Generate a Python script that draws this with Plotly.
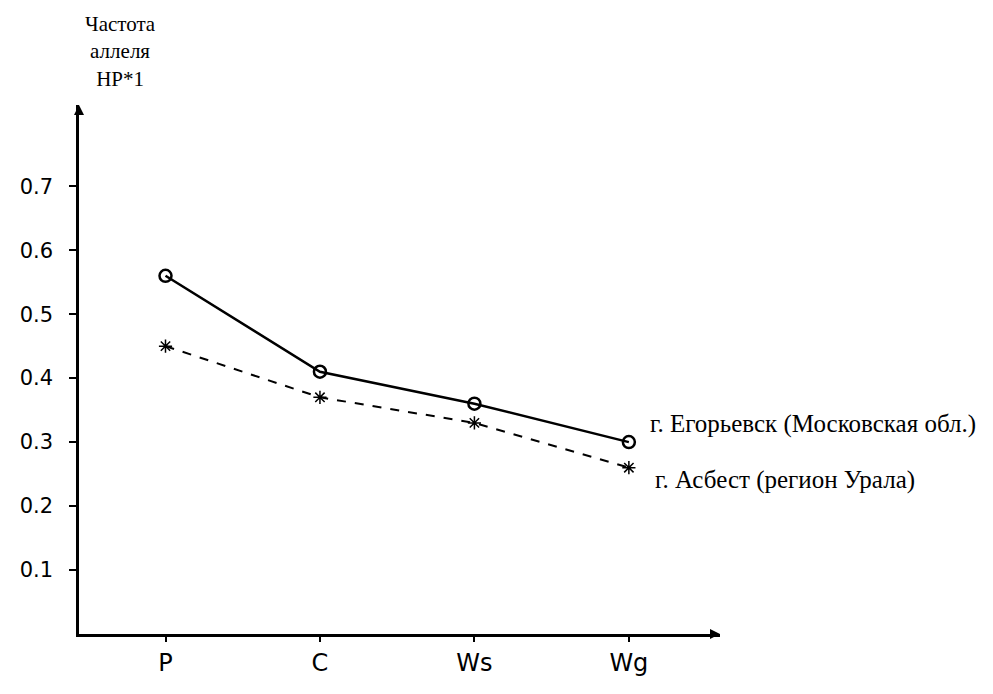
import plotly.graph_objects as go

categories = ["P", "C", "Ws", "Wg"]
yegoryevsk = [0.56, 0.41, 0.36, 0.30]
asbest = [0.45, 0.37, 0.33, 0.26]
y_ticks = [0.1, 0.2, 0.3, 0.4, 0.5, 0.6, 0.7]
y_tick_labels = ["0.1", "0.2", "0.3", "0.4", "0.5", "0.6", "0.7"]
name_yeg = "г. Егорьевск (Московская обл.)"
name_asb = "г. Асбест (регион Урала)"

xpos = list(range(len(categories)))

fig = go.Figure()
fig.add_trace(go.Scatter(
    x=xpos, y=yegoryevsk, mode="lines+markers", name=name_yeg,
    line=dict(color="black", width=2.5),
    marker=dict(symbol="circle-open", size=12, color="black", line=dict(width=2.5)),
))
fig.add_trace(go.Scatter(
    x=xpos, y=asbest, mode="lines+markers", name=name_asb,
    line=dict(color="black", width=2, dash="dash"),
    marker=dict(symbol="asterisk-open", size=11, color="black", line=dict(width=1.5)),
))

serif = "Liberation Serif"
hand = "DejaVu Sans"

fig.add_annotation(x=xpos[-1], y=yegoryevsk[-1], xref="x", yref="y",
                   text=name_yeg, showarrow=False, xanchor="left", yanchor="middle",
                   xshift=19, yshift=18, font=dict(family=serif, size=25, color="black"))
fig.add_annotation(x=xpos[-1], y=asbest[-1], xref="x", yref="y",
                   text=name_asb, showarrow=False, xanchor="left", yanchor="middle",
                   xshift=24, yshift=-12, font=dict(family=serif, size=25, color="black"))

fig.add_annotation(x=0.065, y=1.0, xref="paper", yref="paper", yshift=12,
                   text="Частота<br>аллеля<br>HP*1", showarrow=False, align="center",
                   xanchor="center", yanchor="bottom",
                   font=dict(family=serif, size=21, color="black"))

# axis arrows
fig.add_annotation(x=0, y=1.0, xref="paper", yref="paper", ax=0, ay=10, showarrow=True,
                   arrowhead=2, arrowsize=1, arrowwidth=2, arrowcolor="black", text="")
fig.add_annotation(x=1.0, y=0, xref="paper", yref="paper", ax=-10, ay=0, showarrow=True,
                   arrowhead=2, arrowsize=1, arrowwidth=2, arrowcolor="black", text="")

fig.update_layout(
    width=993, height=694,
    margin=dict(l=65, r=281, t=97, b=68),
    paper_bgcolor="white", plot_bgcolor="white",
    showlegend=False,
    xaxis=dict(range=[-0.56, 3.59], tickmode="array", tickvals=xpos, ticktext=categories,
               showgrid=False, zeroline=False, showline=True, linecolor="black", linewidth=2.5,
               ticks="outside", ticklen=5, tickwidth=2, tickcolor="black",
               tickfont=dict(family=hand, size=24, color="black")),
    yaxis=dict(range=[0, 0.827], tickmode="array", tickvals=y_ticks, ticktext=y_tick_labels,
               showgrid=False, zeroline=False, showline=True, linecolor="black", linewidth=2.5,
               ticks="outside", ticklen=7, tickwidth=2, tickcolor="black",
               ticklabelstandoff=12,
               tickfont=dict(family=hand, size=21, color="black")),
)

fig.write_html("out.html")
